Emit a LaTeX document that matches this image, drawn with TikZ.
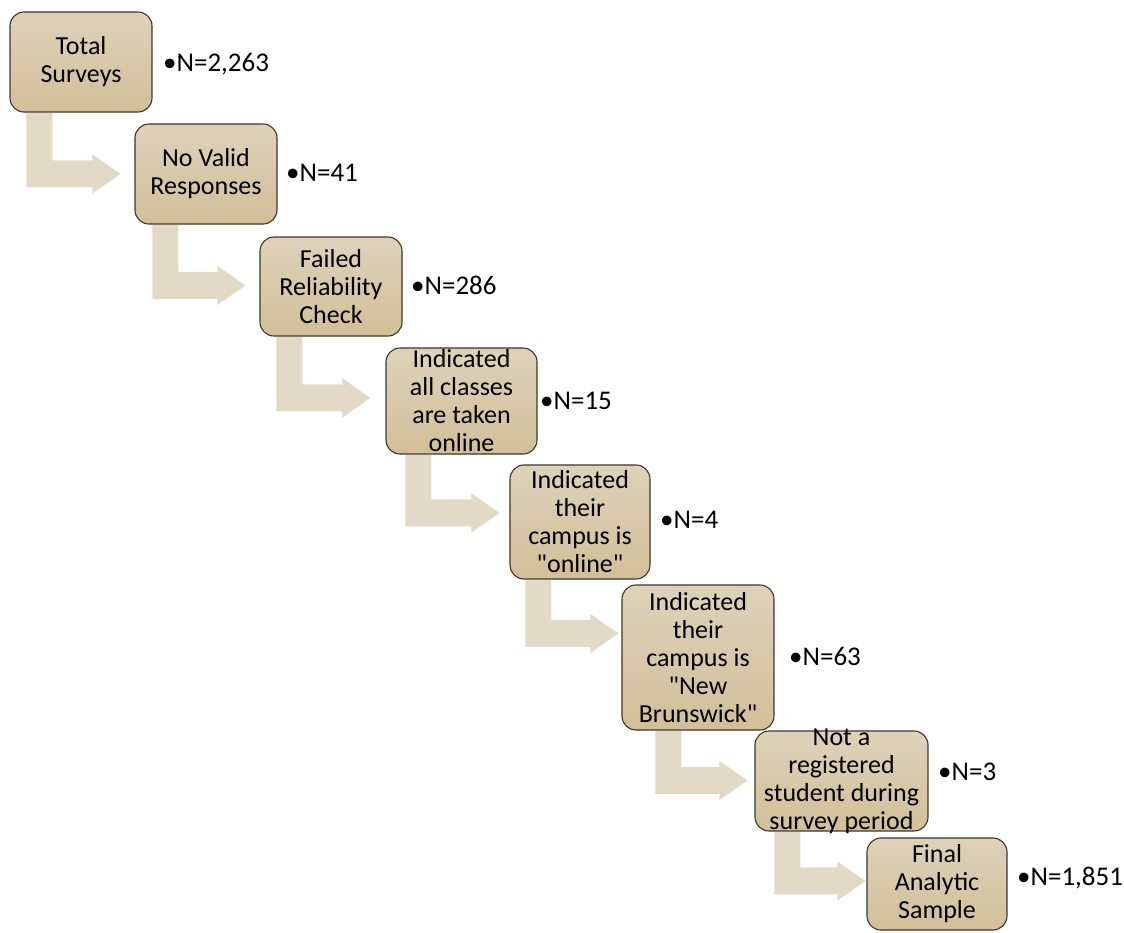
\documentclass[tikz,border=0pt]{standalone}
\usepackage{fontspec}
\setmainfont{Carlito}
\usetikzlibrary{calc}
\definecolor{boxtop}{HTML}{DED2B9}
\definecolor{boxbot}{HTML}{D2BF99}
\definecolor{boxline}{HTML}{3D372B}
\definecolor{flowfill}{HTML}{E2D9C6}
\tikzset{
  stagebox/.style={rounded corners=14pt, draw=boxline, line width=1.1pt,
    top color=boxtop, bottom color=boxbot, inner sep=0pt},
  stagetext/.style={align=center, inner sep=0pt, font=\fontsize{26}{28}\selectfont},
  count/.style={anchor=west, inner sep=0pt, font=\fontsize{27}{30}\selectfont},
  flow/.style={fill=flowfill},
}
% bent block arrow from box #1 to box #2 (stem shift, tip shift, bar drop)
\newcommand\flowarrow[5]{%
  \coordinate (#1s) at ($(#1.south west)+(#3,0.6)$);
  \coordinate (#2t) at ($(#2.north west)+(#4,#5)$);
  \fill[flow] (#1s) -- ++(26,0) |- ($(#2t)+(-28,-13.5)$) -- ++(0,-6) -- (#2t)
    -- ++(-28,19.5) -- ++(0,-6) -- ($(#1s |- #2t)+(0,13.5)$) -- cycle;
}
\begin{document}
\begin{tikzpicture}[x=1pt,y=-1pt]
  \useasboundingbox (0,0) rectangle (1124,932);

  \node[stagebox, minimum width=142pt, minimum height=100pt] (b1) at (81,62) {};
  \node[stagebox, minimum width=142pt, minimum height=100pt] (b2) at (206,174) {};
  \node[stagebox, minimum width=142pt, minimum height=99pt] (b3) at (331,286.5) {};
  \node[stagebox, minimum width=151pt, minimum height=106pt] (b4) at (461.5,401) {};
  \node[stagebox, minimum width=140pt, minimum height=114pt] (b5) at (580,522) {};
  \node[stagebox, minimum width=152pt, minimum height=145pt] (b6) at (698,657.5) {};
  \node[stagebox, minimum width=173pt, minimum height=100pt] (b7) at (841.5,781) {};
  \node[stagebox, minimum width=140pt, minimum height=92pt] (b8) at (937,884) {};

  \node[stagetext] (t1) at (b1) {Total\\Surveys};
  \node[stagetext] (t2) at (b2) {No Valid\\Responses};
  \node[stagetext] (t3) at (b3) {Failed\\Reliability\\Check};
  \node[stagetext] (t4) at (b4) {Indicated\\all classes\\are taken\\online};
  \node[stagetext] (t5) at (b5) {Indicated\\their\\campus is\\\textquotedbl online\textquotedbl};
  \node[stagetext] (t6) at (b6) {Indicated\\their\\campus is\\\textquotedbl New\\Brunswick\textquotedbl};
  \node[stagetext] (t7) at (b7) {Not a\\registered\\student during\\survey period};
  \node[stagetext] (t8) at (b8) {Final\\Analytic\\Sample};

  \flowarrow{b1}{b2}{17}{-14}{50.5}
  \flowarrow{b2}{b3}{18}{-14}{49}
  \flowarrow{b3}{b4}{17}{-15}{50.5}
  \flowarrow{b4}{b5}{20}{-10}{48.5}
  \flowarrow{b5}{b6}{16}{-3}{49}
  \flowarrow{b6}{b7}{34}{-7}{50}
  \flowarrow{b7}{b8}{20}{-1}{43.5}

  \node[count] (n1) at (163,64) {\textbullet N=2,263};
  \node[count] (n2) at (286,173) {\textbullet N=41};
  \node[count] (n3) at (411,285) {\textbullet N=286};
  \node[count] (n4) at (540,401) {\textbullet N=15};
  \node[count] (n5) at (660,520) {\textbullet N=4};
  \node[count] (n6) at (789,656) {\textbullet N=63};
  \node[count] (n7) at (938,772) {\textbullet N=3};
  \node[count] (n8) at (1017,878) {\textbullet N=1,851};
\end{tikzpicture}
\end{document}
